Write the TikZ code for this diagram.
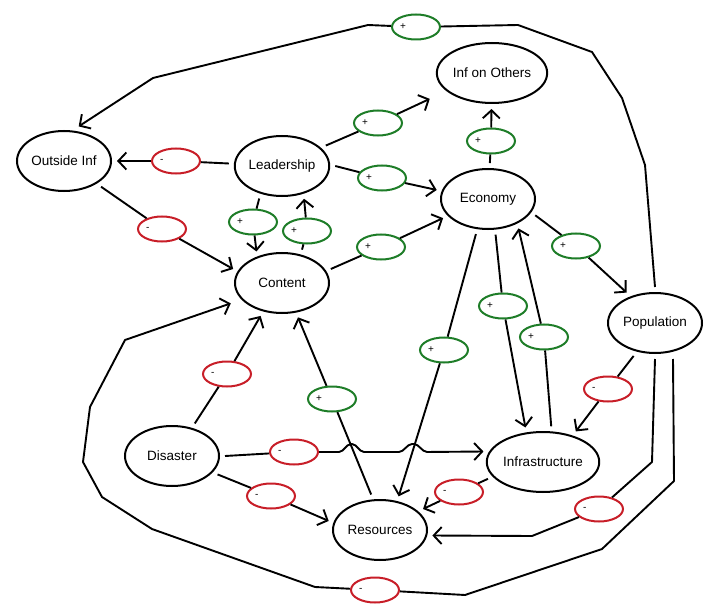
\documentclass[tikz,border=0pt]{standalone}
\usepackage{fontspec}
\setmainfont{Liberation Sans}
\usetikzlibrary{arrows.meta,shapes.geometric}
\definecolor{signgreen}{RGB}{30,125,40}
\definecolor{signred}{RGB}{200,30,40}

\begin{document}
\begin{tikzpicture}[x=1pt,y=-1pt,
  factor/.style={ellipse,draw,line width=2pt,minimum width=94pt,minimum height=60pt,inner sep=0pt,outer sep=6pt,font=\fontsize{13.5}{15}\selectfont},
  sign/.style={ellipse,draw,line width=2pt,fill=white,minimum width=48pt,minimum height=25pt,inner sep=0pt,text width=32pt,align=left,font=\fontsize{10}{12}\selectfont},
  plussign/.style={sign,draw=signgreen},
  minussign/.style={sign,draw=signred},
  link/.style={line width=1.9pt,line join=round},
  arr/.style={link,-{Straight Barb[length=8pt,width=17pt]}}]
\fill[white] (0,0) rectangle (718,615);
\useasboundingbox (0,0) rectangle (718,615);

\node[factor] (Out) at (64,161) {Outside Inf};
\node[factor] (Lead) at (282,166) {Leadership};
\node[factor] (Cont) at (282,283) {Content};
\node[factor] (InfO) at (492,73) {Inf on Others};
\node[factor] (Econ) at (488,199) {Economy};
\node[factor] (Pop) at (655,323) {Population};
\node[factor] (Infra) at (543,462) {Infrastructure};
\node[factor] (Res) at (380,530) {Resources};
\node[factor] (Dis) at (172,456) {Disaster};

\node[plussign] (s1) at (416,27) {+};
\node[minussign] (s2) at (176,161) {-};
\node[minussign] (s3) at (162,229) {-};
\node[plussign] (s4) at (253,222) {+};
\node[plussign] (s5) at (307,231) {+};
\node[plussign] (s6) at (378,123) {+};
\node[plussign] (s7) at (382,178) {+};
\node[plussign] (s8) at (381,247) {+};
\node[plussign] (s9) at (491,141) {+};
\node[plussign] (s10) at (576,246) {+};
\node[plussign] (s11) at (503,306) {+};
\node[plussign] (s12) at (544,337) {+};
\node[plussign] (s13) at (444,350) {+};
\node[minussign] (s14) at (608,389) {-};
\node[minussign] (s15) at (459,492) {-};
\node[minussign] (s16) at (599,509) {-};
\node[minussign] (s17) at (375,590) {-};
\node[minussign] (s18) at (227,374) {-};
\node[plussign] (s19) at (332,399) {+};
\node[minussign] (s20) at (294,452) {-};
\node[minussign] (s21) at (271,496) {-};

\draw[link] (Pop.north) -- (645,165) -- (622,98) -- (592,52) -- (518,25) -- (s1);
\draw[arr] (s1) -- (368,25) -- (153,78) -- (Out.67);
\draw[link] (Lead) -- (s2);
\draw[arr] (s2) -- (Out);
\draw[link] (Out) -- (s3);
\draw[arr] (s3) -- (Cont.164);
\draw[link] (Lead.-125) -- (s4);
\draw[arr] (s4) -- (Cont.129);
\draw[link] (Cont.59) -- (s5);
\draw[arr] (s5) -- (Lead.-56);
\draw[link] (Lead.25) -- (s6);
\draw[arr,shorten >=13pt] (s6) -- (InfO.-158);
\draw[link] (Lead.east) -- (s7);
\draw[arr] (s7) -- (Econ.170);
\draw[link] (Cont.16) -- (s8);
\draw[arr] (s8) -- (Econ.-157);
\draw[link] (Econ) -- (s9);
\draw[arr] (s9) -- (InfO);
\draw[link] (Econ.-19) -- (s10);
\draw[arr] (s10) -- (Pop.133);
\draw[link] (Econ.-78) -- (s11);
\draw[arr] (s11) -- (Infra.117);
\draw[link] (Infra.77) -- (s12);
\draw[arr] (s12) -- (Econ.-44);
\draw[link] (Econ.-109) -- (s13);
\draw[arr] (s13) -- (Res.61);
\draw[link] (Pop.-123) -- (s14);
\draw[arr] (s14) -- (Infra.43);
\draw[link] (Infra.-163) -- (s15);
\draw[arr] (s15) -- (Res.26);
\draw[link] (Pop.south) -- (652,462) -- (s16);
\draw[arr] (s16) -- (532,536) -- (Res.-6);
\draw[link] ([xshift=18pt]Pop.south) -- (674,481) -- (602,549) -- (465,595) -- (s17);
\draw[arr,shorten >=6pt] (s17) -- (315,587) -- (152,529) -- (102,497) -- (83,462) -- (90,407) -- (125,340) -- (Cont.-158);
\draw[link] (Dis.55) -- (s18);
\draw[arr] (s18) -- (Cont.-123);
\draw[link] (Res.104) -- (s19);
\draw[arr] (s19) -- (Cont.-65);
\draw[link] (Dis.east) -- (s20);
\draw[arr,rounded corners=2pt] (s20) -- (341,452) -- (349,444) -- (354,444) -- (362,452) -- (401,452) -- (410,444) -- (416,444) -- (425,452) -- (Infra.170);
\draw[link] (Dis) -- (s21);
\draw[arr] (s21) -- (Res.170);
\end{tikzpicture}
\end{document}
